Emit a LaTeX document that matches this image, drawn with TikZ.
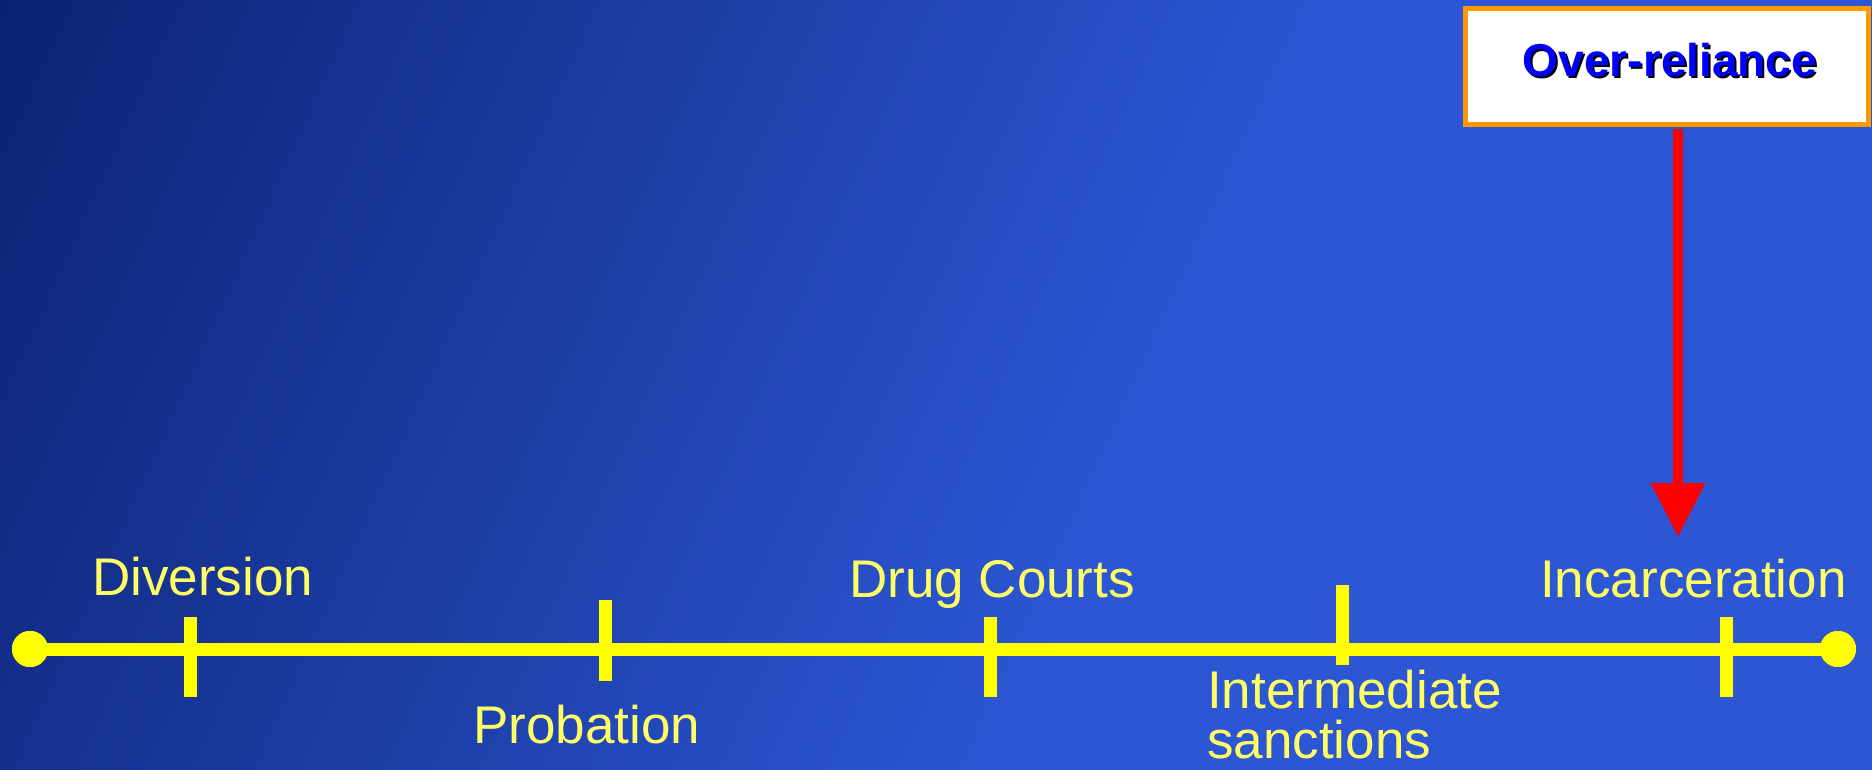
\documentclass[tikz,border=0pt]{standalone}
\usepackage{fontspec}
\setmainfont{Liberation Sans}
\usetikzlibrary{arrows.meta}
\definecolor{bgdark}{RGB}{12,35,115}
\definecolor{bglight}{RGB}{44,86,212}
\definecolor{tlyellow}{RGB}{255,255,0}
\definecolor{lblyellow}{RGB}{255,255,102}
\definecolor{boxorange}{RGB}{255,153,0}
\definecolor{olblue}{RGB}{0,0,255}
\begin{document}
\begin{tikzpicture}[x=1pt,y=-1pt,
  lbltext/.style={text=lblyellow, font=\fontsize{53}{50}\selectfont, inner sep=0pt, anchor=base west, align=left},
  tickline/.style={draw=tlyellow, line width=13pt},
  dotnode/.style={circle, fill=tlyellow, minimum size=36pt, inner sep=0pt},
  oltextstyle/.style={font=\bfseries\fontsize{46}{50}\selectfont, inner sep=0pt, anchor=base},
  boxstyle/.style={draw=boxorange, line width=5pt, fill=white, minimum width=403pt, minimum height=116pt, inner sep=0pt},
  redarrow/.style={draw=red, line width=10pt, -{Triangle[width=52pt,length=54pt,fill=red]}}]
\useasboundingbox (0,0) rectangle (1872,770);
% background gradient
\fill[bglight] (0,0) rectangle (1872,770);
\begin{scope}
\clip (0,0) rectangle (1872,770);
\foreach \i in {0,...,89}{
  \pgfmathsetmacro\p{100*\i/89}
  \pgfmathsetmacro\ta{15*\i}
  \pgfmathsetmacro\tb{15*\i+16}
  \fill[bglight!\p!bgdark] (\ta,0) -- (\tb,0) -- (\tb-346.5,770) -- (\ta-346.5,770) -- cycle;
}
\end{scope}
% timeline
\node[dotnode] (L) at (30,649) {};
\node[dotnode] (R) at (1838,649) {};
\draw[tickline] (L.center) -- (R.center);
\node[dotnode] at (L.center) {};
\node[dotnode] at (R.center) {};
% ticks
\coordinate (t1a) at (190,617); \coordinate (t1b) at (190,697);
\coordinate (t2a) at (605,600); \coordinate (t2b) at (605,681);
\coordinate (t3a) at (990,617); \coordinate (t3b) at (990,697);
\coordinate (t4a) at (1342,585); \coordinate (t4b) at (1342,665);
\coordinate (t5a) at (1726,617); \coordinate (t5b) at (1726,697);
\draw[tickline] (t1a) -- (t1b);
\draw[tickline] (t2a) -- (t2b);
\draw[tickline] (t3a) -- (t3b);
\draw[tickline] (t4a) -- (t4b);
\draw[tickline] (t5a) -- (t5b);
% labels
\node[lbltext] (div) at (92,595) {Diversion};
\node[lbltext] (prob) at (473,743) {Probation};
\node[lbltext] (drug) at (849,597) {Drug Courts};
\node[lbltext] (inter) at (1207,758) {Intermediate\\sanctions};
\node[lbltext] (inc) at (1540,597) {Incarceration};
% box
\node[boxstyle] (box) at (1667,66.5) {};
\node[oltextstyle, text=black] (olshadow) at (1672,79) {Over-reliance};
\node[oltextstyle, text=olblue] (oltext) at (1670,77) {Over-reliance};
% arrow
\coordinate (tip) at (1678,537);
\draw[redarrow] ([yshift=-2.5pt]box.south -| tip) -- (tip);
\end{tikzpicture}
\end{document}
